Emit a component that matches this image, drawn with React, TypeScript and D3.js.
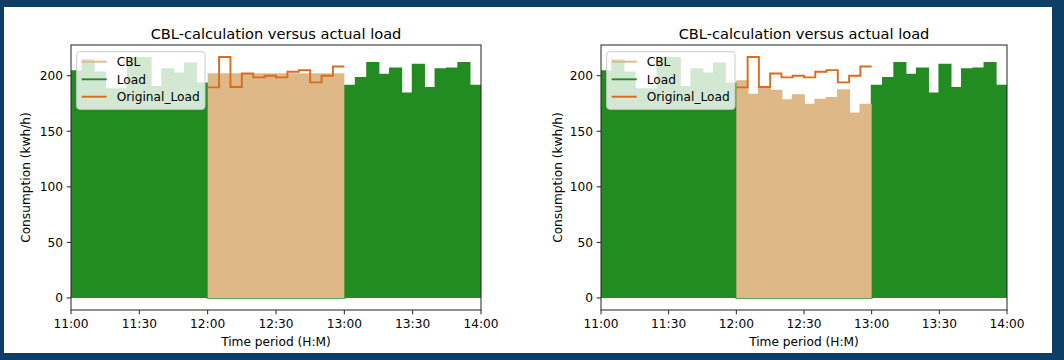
import React from 'react';
import * as d3 from 'd3';

// canvas
const width = 1064;
const height = 360;

// data: 5 minute readings (kwh/h)
const loadBeforeEvent = [204, 214, 203, 188, 188, 216, 216, 190, 206, 202, 211, 193];
const loadDuringEvent = [0, 0, 0, 0, 0, 0, 0, 0, 0, 0, 0, 0];
const loadAfterEvent = [191, 198, 211.5, 201, 206.5, 184, 210, 189, 206, 206.5, 211.5, 191];
const originalLoad = [189.5, 216.8, 189.8, 202, 198.5, 200, 198.5, 203.5, 205, 194, 200, 208.3];
const cblFlat = [201.5, 201.5, 201.5, 201.5, 201.5, 201.5, 201.5, 201.5, 201.5, 201.5, 201.5, 201.5];
const cblProfile = [195, 183, 189, 186.5, 178, 182.5, 174, 178.5, 180, 187, 166, 174];

// ticks
const xTickLabels = ['11:00', '11:30', '12:00', '12:30', '13:00', '13:30', '14:00'];
const yTicks = [0, 50, 100, 150, 200];

const seriesNames = ['CBL', 'Load', 'Original_Load'];

// colours
const loadColor = '#228b22';
const cblColor = '#deb887';
const originalColor = '#dc6a1e';
const frameColor = '#0e3e65';
const font = 'DejaVu Sans, Verdana, sans-serif';

// layout
const plotTop = 45;
const plotBottom = 310;
const tickLen = 4.3;
const stepMinutes = 5;

const parseTime = d3.timeParse('%H:%M');
const dayStart = parseTime('11:00') as Date;
const eventStart = parseTime('12:00') as Date;
const dayEnd = parseTime('14:00') as Date;

// turn a list of readings into step points, with one closing point at the end
const toSteps = (values: number[], start: Date) => {
  const pts = values.map((v, i) => ({ t: d3.timeMinute.offset(start, i * stepMinutes), v }));
  pts.push({ t: d3.timeMinute.offset(start, values.length * stepMinutes), v: values[values.length - 1] });
  return pts;
};

const loadValues = [...loadBeforeEvent, ...loadDuringEvent, ...loadAfterEvent];

const Panel = ({ x0, x1, cbl, yLabelX }: { x0: number; x1: number; cbl: number[]; yLabelX: number }) => {
  const x = d3.scaleTime().domain([dayStart, dayEnd]).range([x0, x1]);
  const maxV = d3.max([...loadValues, ...originalLoad, ...cbl]) as number;
  const pad = maxV * 0.05;
  const y = d3.scaleLinear().domain([-pad, maxV + pad]).range([plotBottom, plotTop]);

  const area = d3
    .area<{ t: Date; v: number }>()
    .x((d) => x(d.t))
    .y0(y(0))
    .y1((d) => y(d.v))
    .curve(d3.curveStepAfter);
  const line = d3
    .line<{ t: Date; v: number }>()
    .x((d) => x(d.t))
    .y((d) => y(d.v))
    .curve(d3.curveStepAfter);

  const loadPts = toSteps(loadValues, dayStart);
  const cblPts = toSteps(cbl, eventStart);
  const origPts = toSteps(originalLoad, eventStart);

  const cx = (x0 + x1) / 2;
  const cy = (plotTop + plotBottom) / 2;
  const colors = [cblColor, loadColor, originalColor];
  const legendRows = [61.7, 79.3, 96.7];

  return (
    <g fontFamily={font} fill="#000">
      <path d={area(loadPts) as string} fill={loadColor} />
      <path d={line(loadPts) as string} fill="none" stroke={loadColor} strokeWidth={1.8} />
      <path d={area(cblPts) as string} fill={cblColor} />
      <path d={line(cblPts) as string} fill="none" stroke={cblColor} strokeWidth={1.8} />
      <path d={line(origPts) as string} fill="none" stroke={originalColor} strokeWidth={1.9} />

      {/* frame */}
      <rect x={x0} y={plotTop} width={x1 - x0} height={plotBottom - plotTop} fill="none" stroke="#222" strokeWidth={1} />

      {/* y axis */}
      {yTicks.map((t) => (
        <g key={t}>
          <line x1={x0 - tickLen} x2={x0} y1={y(t)} y2={y(t)} stroke="#222" strokeWidth={1} />
          <text x={x0 - 8} y={y(t)} dy="0.36em" textAnchor="end" fontSize={12.2}>
            {t}
          </text>
        </g>
      ))}

      {/* x axis */}
      {xTickLabels.map((lbl) => {
        const px = x(parseTime(lbl) as Date);
        return (
          <g key={lbl}>
            <line x1={px} x2={px} y1={plotBottom} y2={plotBottom + tickLen} stroke="#222" strokeWidth={1} />
            <text x={px} y={327.5} textAnchor="middle" fontSize={12.2}>
              {lbl}
            </text>
          </g>
        );
      })}

      <text x={cx} y={345.5} textAnchor="middle" fontSize={12.2}>
        Time period (H:M)
      </text>
      <text transform={`translate(${yLabelX},${cy}) rotate(-90)`} textAnchor="middle" dy="0.36em" fontSize={12.2}>
        Consumption (kwh/h)
      </text>
      <text x={cx} y={38.5} textAnchor="middle" fontSize={14.6}>
        CBL-calculation versus actual load
      </text>

      {/* legend */}
      <rect x={x0 + 5.7} y={51.7} width={128.3} height={57.6} rx={3} fill="#fff" fillOpacity={0.8} stroke="#ccc" strokeWidth={1} />
      {seriesNames.map((name, i) => (
        <g key={name}>
          <line x1={x0 + 10.7} x2={x0 + 35.7} y1={legendRows[i]} y2={legendRows[i]} stroke={colors[i]} strokeWidth={1.9} />
          <text x={x0 + 45.7} y={legendRows[i]} dy="0.36em" fontSize={12.2}>
            {name}
          </text>
        </g>
      ))}
    </g>
  );
};

const App = () => (
  <svg width={width} height={height} style={{ position: 'absolute', left: 0, top: 0 }}>
    <rect width={width} height={height} fill={frameColor} />
    <rect x={4} y={7} width={1048} height={346} fill="#fff" />
    <Panel x0={71} x1={481} cbl={cblFlat} yLabelX={26} />
    <Panel x0={601} x1={1007} cbl={cblProfile} yLabelX={558} />
  </svg>
);

export default App;
